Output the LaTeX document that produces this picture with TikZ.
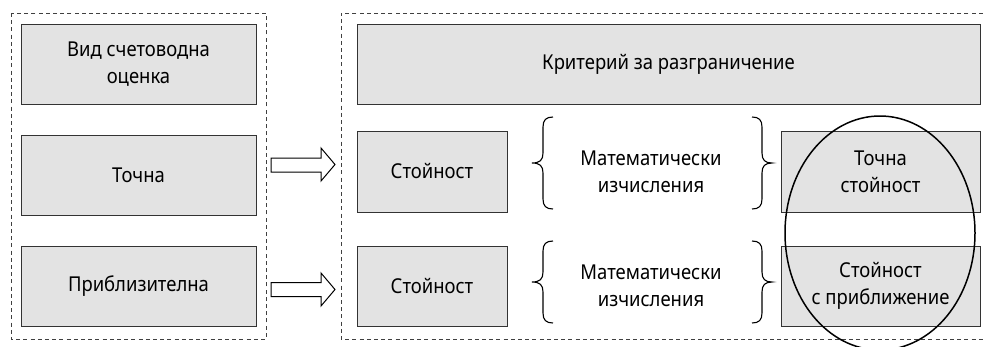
\documentclass[tikz,border=0pt]{standalone}
\usepackage{fontspec}
\setmainfont[Script=Cyrillic, Language=Bulgarian, FakeStretch=0.9]{Noto Sans}
\begin{document}
\begin{tikzpicture}[x=1pt,y=-1pt,
  grbox/.style={draw=black!80, line width=0.9pt, fill=gray!22, inner sep=0pt, align=center,
    font=\fontsize{20.5}{27}\selectfont},
  frame/.style={draw=black!75, line width=0.8pt, dash pattern=on 4pt off 3.2pt},
  blockarrow/.style={draw=black, line width=1pt, fill=white, line join=miter},
  bracestyle/.style={draw=black, line width=1.1pt},
  plain/.style={align=center, font=\fontsize{20.5}{27}\selectfont, inner sep=0pt}]
\useasboundingbox (0,0) rectangle (986,346);
% frames
\draw[frame] (11,13) rectangle (266,339);
\draw[frame] (990,13) -- (341,13) -- (341,339) -- (990,339);
% left column
\node[grbox, minimum width=235pt, minimum height=80pt] (vid) at (138.5,64) {Вид счетоводна\\оценка};
\node[grbox, minimum width=235pt, minimum height=80pt] (tochna) at (138.5,175) {Точна};
\node[grbox, minimum width=235pt, minimum height=80pt] (pribl) at (138.5,286) {Приблизителна};
% right column
\node[grbox, minimum width=623pt, minimum height=80pt] (krit) at (668.5,64) {Критерий за разграничение};
\node[grbox, minimum width=150pt, minimum height=81pt] (st1) at (432,171.5) {Стойност};
\node[grbox, minimum width=150pt, minimum height=80pt] (st2) at (432,286) {Стойност};
\node[plain] (mat1) at (651,171.5) {Математически\\изчисления};
\node[plain] (mat2) at (651,286) {Математически\\изчисления};
\node[grbox, minimum width=199pt, minimum height=81pt] (tst) at (880.5,171.5) {Точна\\стойност};
\node[grbox, minimum width=199pt, minimum height=80pt] (stp) at (880.5,286) {Стойност\\с приближение};
% block arrows
\draw[blockarrow] (271,158) -- (321,158) -- (321,148) -- (335,164.5) -- (321,181) -- (321,172) -- (271,172) -- cycle;
\draw[blockarrow] (271,282.5) -- (321,282.5) -- (321,273) -- (335,289.5) -- (321,306) -- (321,296.5) -- (271,296.5) -- cycle;
% braces
\foreach \t/\b in {117/209, 241/323}{
  \pgfmathsetmacro{\m}{(\t+\b)/2}
  \draw[bracestyle] (553,\t) .. controls (546,\t) and (543,\t+3) .. (543,\t+10)
     -- (543,\m-10) .. controls (543,\m-3) and (540,\m) .. (532,\m)
     .. controls (540,\m) and (543,\m+3) .. (543,\m+10)
     -- (543,\b-10) .. controls (543,\b-3) and (546,\b) .. (553,\b);
  \draw[bracestyle] (752,\t) .. controls (759,\t) and (762,\t+3) .. (762,\t+10)
     -- (762,\m-10) .. controls (762,\m-3) and (765,\m) .. (772,\m)
     .. controls (765,\m) and (762,\m+3) .. (762,\m+10)
     -- (762,\b-10) .. controls (762,\b-3) and (759,\b) .. (752,\b);
}
% ellipse
\draw[black, line width=1.5pt] (880,233) ellipse [x radius=95, y radius=117];
\end{tikzpicture}
\end{document}
